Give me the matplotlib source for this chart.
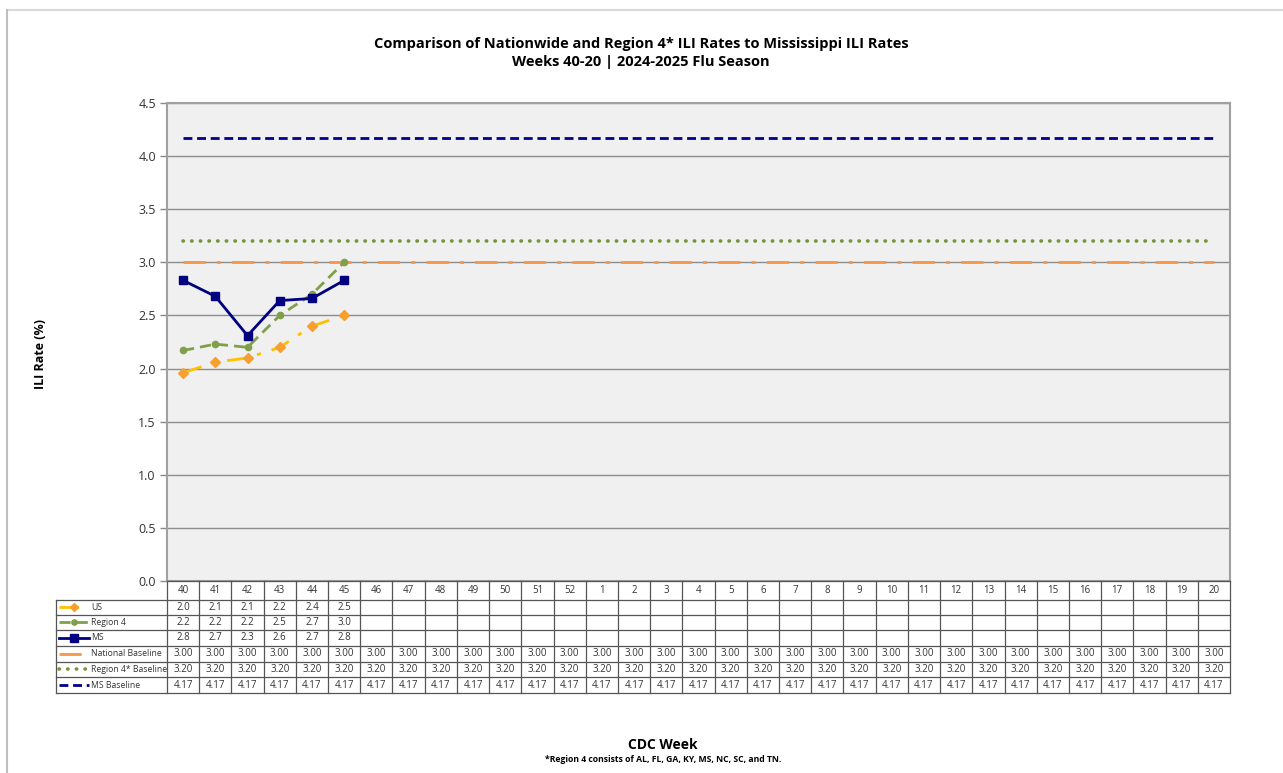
import matplotlib
matplotlib.use("Agg")
import matplotlib.pyplot as plt
from matplotlib.lines import Line2D

plt.rcParams['font.family'] = ['Open Sans', 'DejaVu Sans']

# ---------------- data ----------------
weeks = ['40', '41', '42', '43', '44', '45', '46', '47', '48', '49', '50', '51', '52',
         '1', '2', '3', '4', '5', '6', '7', '8', '9', '10', '11', '12', '13', '14',
         '15', '16', '17', '18', '19', '20']
us = [1.96, 2.06, 2.10, 2.20, 2.40, 2.50]
region4 = [2.17, 2.23, 2.20, 2.50, 2.70, 3.00]
ms = [2.83, 2.68, 2.31, 2.64, 2.66, 2.83]
national_baseline = [3.00] * len(weeks)
region4_baseline = [3.20] * len(weeks)
ms_baseline = [4.17] * len(weeks)

title = "Comparison of Nationwide and Region 4* ILI Rates to Mississippi ILI Rates\nWeeks 40-20 | 2024-2025 Flu Season"
ylabel = "ILI Rate (%)"
xlabel = "CDC Week"
footnote = "*Region 4 consists of AL, FL, GA, KY, MS, NC, SC, and TN."

# ---------------- figure ----------------
W, H = 1283, 773
fig = plt.figure(figsize=(W / 100, H / 100), dpi=100)

def fx(px):
    return px / W

def fy(py):
    return 1 - py / H

# outer frame
fig.add_artist(Line2D([fx(7), 1], [fy(10), fy(10)], color='#D9D9D9', lw=1.5))
fig.add_artist(Line2D([fx(7), fx(7)], [fy(10), 0], color='#BFBFBF', lw=1.5))

L, R, T, B = 167, 1230, 103, 581
ax = fig.add_axes([fx(L), fy(B), fx(R - L), (B - T) / H])
ax.set_facecolor('#F0F0F0')
n = len(weeks)
x_all = list(range(n))
ax.set_xlim(-0.5, n - 0.5)
ax.set_ylim(0, 4.5)
ax.set_yticks([i * 0.5 for i in range(10)])
ax.set_yticklabels([f"{i * 0.5:.1f}" for i in range(10)], fontsize=9, color='#333333')
ax.set_xticks([])
ax.tick_params(axis='y', length=5, width=1, color='#888888', pad=3)
ax.grid(axis='y', color='#8C8C8C', lw=1)
ax.set_axisbelow(True)
for s in ax.spines.values():
    s.set_color('#A0A0A0')
    s.set_linewidth(1.5)

# styles
c_us_line, c_us_mark = '#FFC000', '#F7A030'
c_r4 = '#7F9F4A'
c_ms = '#000080'
c_nb = '#F79646'
c_r4b = '#77933C'
c_msb = '#00008B'

line_st = {
    'US': dict(color=c_us_line, lw=2, dashes=(7, 4, 1.5, 4)),
    'Region 4': dict(color=c_r4, lw=2, dashes=(4, 2.2)),
    'MS': dict(color=c_ms, lw=2, ls='-'),
    'National Baseline': dict(color=c_nb, lw=2, dashes=(8, 4, 1.5, 4)),
    'Region 4* Baseline': dict(color=c_r4b, lw=2.6, dashes=(0.1, 2.3), dash_capstyle='round'),
    'MS Baseline': dict(color=c_msb, lw=2, dashes=(3.2, 1.7)),
}
mark_st = {
    'US': dict(marker='D', ms=5, mfc=c_us_mark, mec=c_us_mark),
    'Region 4': dict(marker='o', ms=4.5, mfc=c_r4, mec=c_r4),
    'MS': dict(marker='s', ms=6, mfc=c_ms, mec=c_ms),
}

ax.plot(x_all, national_baseline, **line_st['National Baseline'])
ax.plot(x_all, region4_baseline, **line_st['Region 4* Baseline'])
ax.plot(x_all, ms_baseline, **line_st['MS Baseline'])
ax.plot(range(len(region4)), region4, **line_st['Region 4'], **mark_st['Region 4'], zorder=3)
ax.plot(range(len(us)), us, **line_st['US'], **mark_st['US'], zorder=3)
ax.plot(range(len(ms)), ms, **line_st['MS'], **mark_st['MS'], zorder=4)

# ---------------- data table ----------------
TB = 693
tax = fig.add_axes([fx(L), fy(TB), fx(R - L), (TB - B) / H])
tax.set_xlim(-0.5, n - 0.5)
tax.set_ylim(TB - B, 0)
tax.axis('off')
colw = (R - L) / n

def px2x(px):
    return (px - L) / colw - 0.5

rows = [0, 18.5, 33.5, 49, 64.8, 80.5, 96, 112]
xl = px2x(56)
lc = '#555555'
for i in range(n + 1):
    tax.plot([i - 0.5, i - 0.5], [rows[0], rows[-1]], color=lc, lw=0.9, clip_on=False)
tax.plot([xl, xl], [rows[1], rows[-1]], color=lc, lw=0.9, clip_on=False)
tax.plot([-0.5, n - 0.5], [rows[0], rows[0]], color=lc, lw=0.9, clip_on=False)
for r in rows[1:]:
    tax.plot([xl, n - 0.5], [r, r], color=lc, lw=0.9, clip_on=False)

tf = dict(fontsize=7, color='#333333', ha='center', va='center')
for i, w in enumerate(weeks):
    tax.text(i, (rows[0] + rows[1]) / 2, w, **tf)

series = [
    ('US', us, '{:.1f}'),
    ('Region 4', region4, '{:.1f}'),
    ('MS', ms, '{:.1f}'),
    ('National Baseline', national_baseline, '{:.2f}'),
    ('Region 4* Baseline', region4_baseline, '{:.2f}'),
    ('MS Baseline', ms_baseline, '{:.2f}'),
]
for k, (name, vals, fmt) in enumerate(series):
    yc = (rows[k + 1] + rows[k + 2]) / 2
    for i, v in enumerate(vals):
        tax.text(i, yc, fmt.format(v), **tf)
    tax.plot([px2x(59), px2x(89)], [yc, yc], clip_on=False, **line_st[name])
    if name in mark_st:
        mk = dict(mark_st[name])
        mk['ms'] = mk['ms'] * 0.85
        tax.plot([px2x(74)], [yc], clip_on=False, ls='none', **mk)
    tax.text(px2x(91), yc, name, fontsize=6.2, color='#333333', ha='left', va='center')

# ---------------- texts ----------------
fig.text(fx(641), fy(53), title, ha='center', va='center', fontsize=10.5,
         fontweight='bold', linespacing=1.4)
fig.text(fx(40), fy(354), ylabel, rotation=90, ha='center', va='center',
         fontsize=9, fontweight='bold')
fig.text(fx(663), fy(745), xlabel, ha='center', va='center', fontsize=10, fontweight='bold')
fig.text(fx(663), fy(759), footnote, ha='center', va='center', fontsize=6.2, fontweight='bold')

fig.savefig('out.png', dpi=100)
